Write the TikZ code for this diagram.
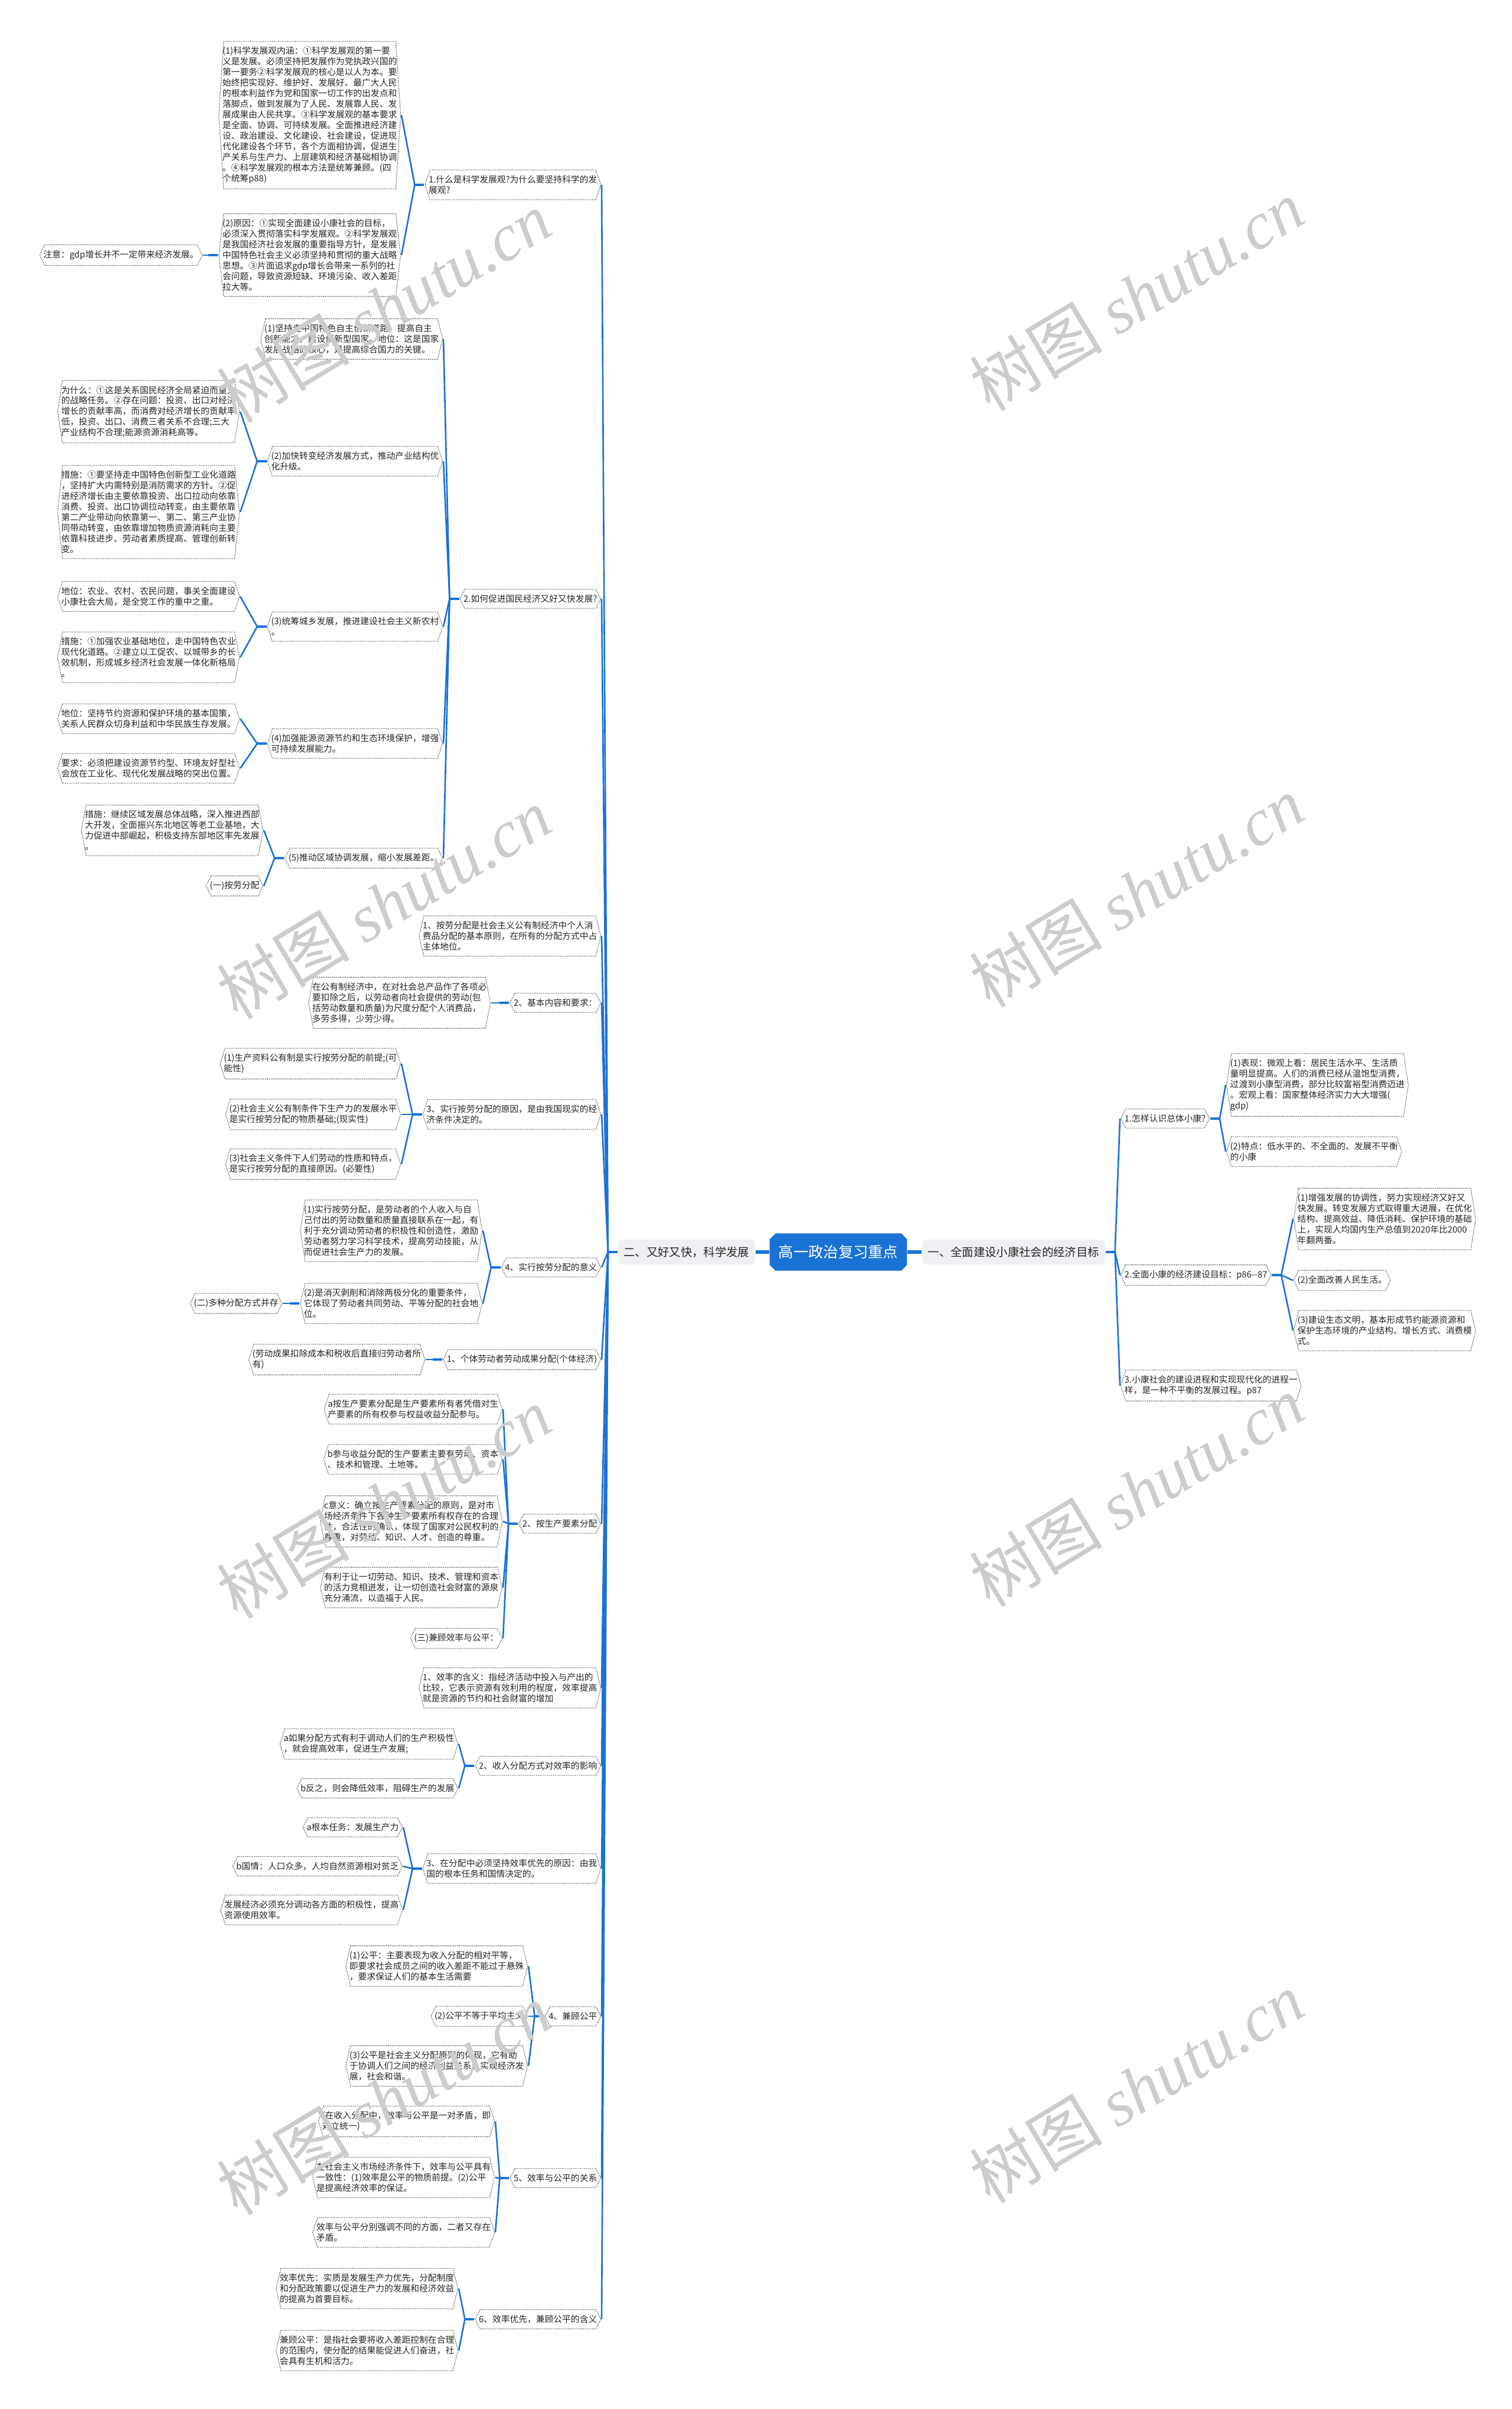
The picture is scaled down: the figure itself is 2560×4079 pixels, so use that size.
\documentclass[tikz,border=0pt]{standalone}
\usepackage{fontspec}
\usepackage{tikz}
\usetikzlibrary{calc, shapes.misc}
\newfontfamily\cjk{Noto Sans CJK SC}
\newfontfamily\wmlatin{Liberation Serif}
\definecolor{mapblue}{HTML}{1A72D6}
\definecolor{topicgray}{HTML}{EEF0F3}
\newcommand{\nodefont}{\cjk\fontsize{4.2pt}{5.1pt}\selectfont}

\begin{document}
\begin{tikzpicture}[
    x=0.01cm, y=-0.01cm,
    root/.style={chamfered rectangle, chamfered rectangle xsep=0.05cm, chamfered rectangle ysep=0.05cm, fill=mapblue, text=white, inner xsep=0.1cm, inner ysep=0.15cm, font=\cjk\fontsize{7.2pt}{8pt}\selectfont},
    topic/.style={rounded corners=0.08cm, fill=topicgray, text=black!85, inner xsep=0.1cm, inner ysep=0.12cm, font=\cjk\fontsize{5.5pt}{6.5pt}\selectfont},
    item/.style={fill=white, text=black!85, align=left, inner xsep=0.07cm, inner ysep=0.1cm, font=\nodefont,
        path picture={\draw[black!70, line width=0.3pt, dash pattern=on 0.45pt off 0.45pt]
            ([xshift=0.09cm, yshift=-0.2pt]path picture bounding box.north west) --
            ([xshift=-0.09cm, yshift=-0.2pt]path picture bounding box.north east) --
            ([xshift=-0.2pt]path picture bounding box.east) --
            ([xshift=-0.09cm, yshift=0.2pt]path picture bounding box.south east) --
            ([xshift=0.09cm, yshift=0.2pt]path picture bounding box.south west) --
            ([xshift=0.2pt]path picture bounding box.west) -- cycle;}},
    link/.style={draw=mapblue, line width=0.75pt},
    stub/.style={draw=mapblue, line width=1.3pt},
    wm/.style={text=black!20, rotate=31, font=\cjk\fontsize{32pt}{36pt}\selectfont}
]
\useasboundingbox (0,0) rectangle (2560,4079);

% centre and the two main topics
\node[root] (root) at (1420,2120) {高一政治复习重点};
\node[topic, anchor=east] (lt) at (1280,2120) {二、又好又快，科学发展};
\node[topic, anchor=west] (rt) at (1561,2120) {一、全面建设小康社会的经济目标};
\draw[mapblue, line width=1.7pt] (root.west) -- (lt.east);
\draw[mapblue, line width=1.7pt] (root.east) -- (rt.west);

% right: economic goals
\node[item, anchor=west] (r1) at (1897,1894) {1.怎样认识总体小康?};
\node[item, anchor=west] (r1a) at (2076,1837) {(1)表现：微观上看：居民生活水平、生活质\\量明显提高。人们的消费已经从温饱型消费，\\过渡到小康型消费，部分比较富裕型消费迈进\\。宏观上看：国家整体经济实力大大增强(\\gdp)};
\node[item, anchor=west] (r1b) at (2076,1950) {(2)特点：低水平的、不全面的、发展不平衡\\的小康};
\node[item, anchor=west] (r2) at (1897,2159) {2.全面小康的经济建设目标：p86-{}-87};
\node[item, anchor=west] (r2a) at (2190,2064) {(1)增强发展的协调性，努力实现经济又好又\\快发展。转变发展方式取得重大进展，在优化\\结构、提高效益、降低消耗、保护环境的基础\\上，实现人均国内生产总值到2020年比2000\\年翻两番。};
\node[item, anchor=west] (r2b) at (2190,2168) {(2)全面改善人民生活。};
\node[item, anchor=west] (r2c) at (2190,2253) {(3)建设生态文明，基本形成节约能源资源和\\保护生态环境的产业结构、增长方式、消费模\\式。};
\node[item, anchor=west] (r3) at (1897,2346) {3.小康社会的建设进程和实现现代化的进程一\\样，是一种不平衡的发展过程。p87};

% left: scientific development
\node[item, anchor=east] (n1) at (1019,313) {1.什么是科学发展观?为什么要坚持科学的发\\展观?};
\node[item, anchor=east] (n1a) at (680,195) {(1)科学发展观内涵：①科学发展观的第一要\\义是发展。必须坚持把发展作为党执政兴国的\\第一要务②科学发展观的核心是以人为本。要\\始终把实现好、维护好、发展好、最广大人民\\的根本利益作为党和国家一切工作的出发点和\\落脚点，做到发展为了人民、发展靠人民、发\\展成果由人民共享。③科学发展观的基本要求\\是全面、协调、可持续发展。全面推进经济建\\设、政治建设、文化建设、社会建设，促进现\\代化建设各个环节，各个方面相协调，促进生\\产关系与生产力、上层建筑和经济基础相协调\\。④科学发展观的根本方法是统筹兼顾。(四\\个统筹p88)};
\node[item, anchor=east] (n1b) at (680,432) {(2)原因：①实现全面建设小康社会的目标，\\必须深入贯彻落实科学发展观。②科学发展观\\是我国经济社会发展的重要指导方针，是发展\\中国特色社会主义必须坚持和贯彻的重大战略\\思想。③片面追求gdp增长会带来一系列的社\\会问题，导致资源短缺、环境污染、收入差距\\拉大等。};
\node[item, anchor=east] (n1b1) at (344,432) {注意：gdp增长并不一定带来经济发展。};

\node[item, anchor=east] (n2) at (1019,1014) {2.如何促进国民经济又好又快发展?};
\node[item, anchor=east] (n2a) at (751,574) {(1)坚持走中国特色自主创新道路，提高自主\\创新能力，建设创新型国家。地位：这是国家\\发展战略的核心，是提高综合国力的关键。};
\node[item, anchor=east] (n2b) at (751,781) {(2)加快转变经济发展方式，推动产业结构优\\化升级。};
\node[item, anchor=east] (n2b1) at (407,697) {为什么：①这是关系国民经济全局紧迫而重大\\的战略任务。②存在问题：投资、出口对经济\\增长的贡献率高，而消费对经济增长的贡献率\\低，投资、出口、消费三者关系不合理;三大\\产业结构不合理;能源资源消耗高等。};
\node[item, anchor=east] (n2b2) at (407,867) {措施：①要坚持走中国特色创新型工业化道路\\，坚持扩大内需特别是消防需求的方针。②促\\进经济增长由主要依靠投资、出口拉动向依靠\\消费、投资、出口协调拉动转变，由主要依靠\\第二产业带动向依靠第一、第二、第三产业协\\同带动转变，由依靠增加物质资源消耗向主要\\依靠科技进步、劳动者素质提高、管理创新转\\变。};
\node[item, anchor=east] (n2c) at (751,1061) {(3)统筹城乡发展，推进建设社会主义新农村\\。};
\node[item, anchor=east] (n2c1) at (407,1010) {地位：农业、农村、农民问题，事关全面建设\\小康社会大局，是全党工作的重中之重。};
\node[item, anchor=east] (n2c2) at (407,1113) {措施：①加强农业基础地位，走中国特色农业\\现代化道路。②建立以工促农、以城带乡的长\\效机制，形成城乡经济社会发展一体化新格局\\。};
\node[item, anchor=east] (n2d) at (751,1259) {(4)加强能源资源节约和生态环境保护，增强\\可持续发展能力。};
\node[item, anchor=east] (n2d1) at (407,1217) {地位：坚持节约资源和保护环境的基本国策，\\关系人民群众切身利益和中华民族生存发展。};
\node[item, anchor=east] (n2d2) at (407,1301) {要求：必须把建设资源节约型、环境友好型社\\会放在工业化、现代化发展战略的突出位置。};
\node[item, anchor=east] (n2e) at (751,1453) {(5)推动区域协调发展，缩小发展差距。};
\node[item, anchor=east] (n2e1) at (447,1406) {措施：继续区域发展总体战略，深入推进西部\\大开发，全面振兴东北地区等老工业基地，大\\力促进中部崛起，积极支持东部地区率先发展\\。};
\node[item, anchor=east] (n2e2) at (447,1500) {(一)按劳分配};

\node[item, anchor=east] (n3) at (1019,1585) {1、按劳分配是社会主义公有制经济中个人消\\费品分配的基本原则，在所有的分配方式中占\\主体地位。};
\node[item, anchor=east] (n4) at (1019,1698) {2、基本内容和要求：};
\node[item, anchor=east] (n4a) at (832,1698) {在公有制经济中，在对社会总产品作了各项必\\要扣除之后，以劳动者向社会提供的劳动(包\\括劳动数量和质量)为尺度分配个人消费品，\\多劳多得，少劳少得。};
\node[item, anchor=east] (n5) at (1019,1887) {3、实行按劳分配的原因，是由我国现实的经\\济条件决定的。};
\node[item, anchor=east] (n5a) at (680,1801) {(1)生产资料公有制是实行按劳分配的前提;(可\\能性)};
\node[item, anchor=east] (n5b) at (680,1887) {(2)社会主义公有制条件下生产力的发展水平\\是实行按劳分配的物质基础;(现实性)};
\node[item, anchor=east] (n5c) at (680,1971) {(3)社会主义条件下人们劳动的性质和特点，\\是实行按劳分配的直接原因。(必要性)};
\node[item, anchor=east] (n6) at (1019,2146) {4、实行按劳分配的意义};
\node[item, anchor=east] (n6a) at (818,2084) {(1)实行按劳分配，是劳动者的个人收入与自\\己付出的劳动数量和质量直接联系在一起，有\\利于充分调动劳动者的积极性和创造性，激励\\劳动者努力学习科学技术，提高劳动技能，从\\而促进社会生产力的发展。};
\node[item, anchor=east] (n6b) at (818,2207) {(2)是消灭剥削和消除两极分化的重要条件，\\它体现了劳动者共同劳动、平等分配的社会地\\位。};
\node[item, anchor=east] (n6b1) at (479,2207) {(二)多种分配方式并存};
\node[item, anchor=east] (n7) at (1019,2302) {1、个体劳动者劳动成果分配(个体经济)};
\node[item, anchor=east] (n7a) at (721,2302) {(劳动成果扣除成本和税收后直接归劳动者所\\有)};
\node[item, anchor=east] (n8) at (1019,2580) {2、按生产要素分配};
\node[item, anchor=east] (n8a) at (852,2386) {a按生产要素分配是生产要素所有者凭借对生\\产要素的所有权参与权益收益分配参与。};
\node[item, anchor=east] (n8b) at (852,2471) {b参与收益分配的生产要素主要有劳动、资本\\、技术和管理、土地等。};
\node[item, anchor=east] (n8c) at (852,2576) {c意义：确立按生产要素分配的原则，是对市\\场经济条件下各种生产要素所有权存在的合理\\性，合法性的确认，体现了国家对公民权利的\\尊重，对劳动、知识、人才、创造的尊重。};
\node[item, anchor=east] (n8d) at (852,2688) {有利于让一切劳动、知识、技术、管理和资本\\的活力竞相迸发，让一切创造社会财富的源泉\\充分涌流，以造福于人民。};
\node[item, anchor=east] (n8e) at (852,2774) {(三)兼顾效率与公平：};
\node[item, anchor=east] (n9) at (1019,2858) {1、效率的含义：指经济活动中投入与产出的\\比较，它表示资源有效利用的程度，效率提高\\就是资源的节约和社会财富的增加};
\node[item, anchor=east] (n10) at (1019,2990) {2、收入分配方式对效率的影响};
\node[item, anchor=east] (n10a) at (777,2953) {a如果分配方式有利于调动人们的生产积极性\\，就会提高效率，促进生产发展;};
\node[item, anchor=east] (n10b) at (777,3028) {b反之，则会降低效率，阻碍生产的发展};
\node[item, anchor=east] (n11) at (1019,3164) {3、在分配中必须坚持效率优先的原因：由我\\国的根本任务和国情决定的。};
\node[item, anchor=east] (n11a) at (683,3094) {a根本任务：发展生产力};
\node[item, anchor=east] (n11b) at (683,3160) {b国情：人口众多，人均自然资源相对贫乏};
\node[item, anchor=east] (n11c) at (683,3234) {发展经济必须充分调动各方面的积极性，提高\\资源使用效率。};
\node[item, anchor=east] (n12) at (1019,3414) {4、兼顾公平};
\node[item, anchor=east] (n12a) at (895,3329) {(1)公平：主要表现为收入分配的相对平等，\\即要求社会成员之间的收入差距不能过于悬殊\\，要求保证人们的基本生活需要};
\node[item, anchor=east] (n12b) at (895,3414) {(2)公平不等于平均主义};
\node[item, anchor=east] (n12c) at (895,3498) {(3)公平是社会主义分配原则的体现，它有助\\于协调人们之间的经济利益关系，实现经济发\\展，社会和谐。};
\node[item, anchor=east] (n13) at (1019,3688) {5、效率与公平的关系};
\node[item, anchor=east] (n13a) at (839,3592) {(在收入分配中，效率与公平是一对矛盾，即\\对立统一)};
\node[item, anchor=east] (n13b) at (839,3687) {在社会主义市场经济条件下，效率与公平具有\\一致性：(1)效率是公平的物质前提。(2)公平\\是提高经济效率的保证。};
\node[item, anchor=east] (n13c) at (839,3780) {效率与公平分别强调不同的方面，二者又存在\\矛盾。};
\node[item, anchor=east] (n14) at (1019,3927) {6、效率优先，兼顾公平的含义};
\node[item, anchor=east] (n14a) at (777,3875) {效率优先：实质是发展生产力优先，分配制度\\和分配政策要以促进生产力的发展和经济效益\\的提高为首要目标。};
\node[item, anchor=east] (n14b) at (777,3980) {兼顾公平：是指社会要将收入差距控制在合理\\的范围内，使分配的结果能促进人们奋进，社\\会具有生机和活力。};

% connectors, right side
\foreach \p in {rt, r1, r2}
    \draw[stub] (\p.east) -- ++(16,0);
\foreach \p/\c in {rt/r1, rt/r2, rt/r3, r1/r1a, r1/r1b, r2/r2a, r2/r2b, r2/r2c}
    \draw[link] ($(\p.east)+(16,0)$) -- (\c.west);

% connectors, left side
\foreach \p in {lt, n1, n1b, n2, n2b, n2c, n2d, n2e, n4, n5, n6, n6b, n7, n8, n10, n11, n12, n13, n14}
    \draw[stub] (\p.west) -- ++(-16,0);
\foreach \p/\c in {lt/n1, lt/n2, lt/n3, lt/n4, lt/n5, lt/n6, lt/n7, lt/n8, lt/n9, lt/n10, lt/n11, lt/n12, lt/n13, lt/n14,
        n1/n1a, n1/n1b, n1b/n1b1,
        n2/n2a, n2/n2b, n2/n2c, n2/n2d, n2/n2e,
        n2b/n2b1, n2b/n2b2, n2c/n2c1, n2c/n2c2, n2d/n2d1, n2d/n2d2, n2e/n2e1, n2e/n2e2,
        n4/n4a, n5/n5a, n5/n5b, n5/n5c, n6/n6a, n6/n6b, n6b/n6b1, n7/n7a,
        n8/n8a, n8/n8b, n8/n8c, n8/n8d, n8/n8e,
        n10/n10a, n10/n10b, n11/n11a, n11/n11b, n11/n11c,
        n12/n12a, n12/n12b, n12/n12c, n13/n13a, n13/n13b, n13/n13c, n14/n14a, n14/n14b}
    \draw[link] ($(\p.west)+(-16,0)$) -- (\c.east);

% watermark
\foreach \x/\y [count=\i] in {650/520, 1925/500, 650/1530, 1925/1510, 650/2545, 1925/2525, 650/3555, 1925/3535}
    \node[wm] (wm\i) at (\x,\y) {树图 {\wmlatin\itshape shutu.cn}};
\end{tikzpicture}
\end{document}
